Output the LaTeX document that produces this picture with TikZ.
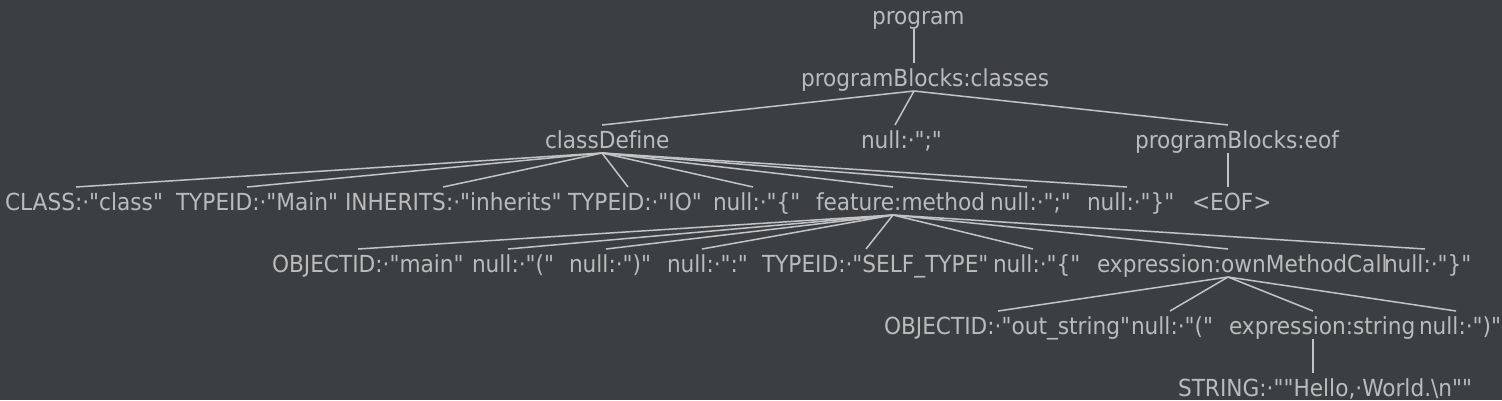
\documentclass[tikz,border=0pt]{standalone}
\usepackage{fontspec}
\setmainfont{DejaVu Sans Condensed}[FakeStretch=1.025, Ligatures={TeXOff,CommonOff}]
\definecolor{bgc}{HTML}{3C3F41}
\definecolor{txtc}{HTML}{BBBBBB}
\definecolor{edgec}{HTML}{C4C4C4}
\newcommand\lbltext[2]{\makebox[0pt][l]{\hspace*{-#1pt}#2}}
\tikzset{
  lbl/.style={inner sep=0pt, outer sep=0pt, text height=23pt, text depth=5pt,
    anchor=base, text=txtc, font=\fontsize{23.5}{28}\selectfont},
  edge/.style={draw=edgec, line width=1.5pt}
}
\begin{document}
\begin{tikzpicture}[x=1pt,y=-1pt]
\fill[bgc] (0,0) rectangle (1502,400);
\useasboundingbox (0,0) rectangle (1502,400);
% level 0
\node[lbl] (prog) at (914,24) {\lbltext{42}{program}};
% level 1
\node[lbl] (pbc) at (914,86) {\lbltext{113}{programBlocks:classes}};
% level 2
\node[lbl] (cd) at (602,148) {\lbltext{57}{classDefine}};
\node[lbl] (semi1) at (895,148) {\lbltext{34}{null:·";"}};
\node[lbl] (pbe) at (1228,148) {\lbltext{93}{programBlocks:eof}};
% level 3
\node[lbl] (cls) at (76,210) {\lbltext{71}{CLASS:·"class"}};
\node[lbl] (tmain) at (247,210) {\lbltext{71}{TYPEID:·"Main"}};
\node[lbl] (inh) at (443,210) {\lbltext{98}{INHERITS:·"inherits"}};
\node[lbl] (tio) at (628,210) {\lbltext{60}{TYPEID:·"IO"}};
\node[lbl] (lb1) at (753,210) {\lbltext{40}{null:·"\{"}};
\node[lbl] (fm) at (893,210) {\lbltext{77}{feature:method}};
\node[lbl] (semi2) at (1027,210) {\lbltext{37}{null:·";"}};
\node[lbl] (rb1) at (1127,210) {\lbltext{40}{null:·"\}"}};
\node[lbl] (eof) at (1228,210) {\lbltext{36}{<EOF>}};
% level 4
\node[lbl] (omain) at (358,272) {\lbltext{86}{OBJECTID:·"main"}};
\node[lbl] (lp1) at (508,272) {\lbltext{36}{null:·"("}};
\node[lbl] (rp1) at (606,272) {\lbltext{37}{null:·")"}};
\node[lbl] (colon) at (702,272) {\lbltext{35}{null:·":"}};
\node[lbl] (self) at (866,272) {\lbltext{104}{TYPEID:·"SELF\_TYPE"}};
\node[lbl] (lb2) at (1033,272) {\lbltext{40}{null:·"\{"}};
\node[lbl] (omc) at (1228,272) {\lbltext{131}{expression:ownMethodCall}};
\node[lbl] (rb2) at (1425,272) {\lbltext{41}{null:·"\}"}};
% level 5
\node[lbl] (outs) at (998,334) {\lbltext{114}{OBJECTID:·"out\_string"}};
\node[lbl] (lp2) at (1170,334) {\lbltext{39}{null:·"("}};
\node[lbl] (estr) at (1313,334) {\lbltext{84}{expression:string}};
\node[lbl] (rp2) at (1456,334) {\lbltext{37}{null:·")"}};
% level 6
\node[lbl] (str) at (1313,396) {\lbltext{135}{STRING:·""Hello,·World.\textbackslash n""}};
% edges
\draw[edge] (prog.south) -- (pbc.north);
\foreach \c in {cd,semi1,pbe} \draw[edge] (pbc.south) -- (\c.north);
\foreach \c in {cls,tmain,inh,tio,lb1,fm,semi2,rb1} \draw[edge] (cd.south) -- (\c.north);
\draw[edge] (pbe.south) -- (eof.north);
\foreach \c in {omain,lp1,rp1,colon,self,lb2,omc,rb2} \draw[edge] (fm.south) -- (\c.north);
\foreach \c in {outs,lp2,estr,rp2} \draw[edge] (omc.south) -- (\c.north);
\draw[edge] (estr.south) -- (str.north);
\end{tikzpicture}
\end{document}
